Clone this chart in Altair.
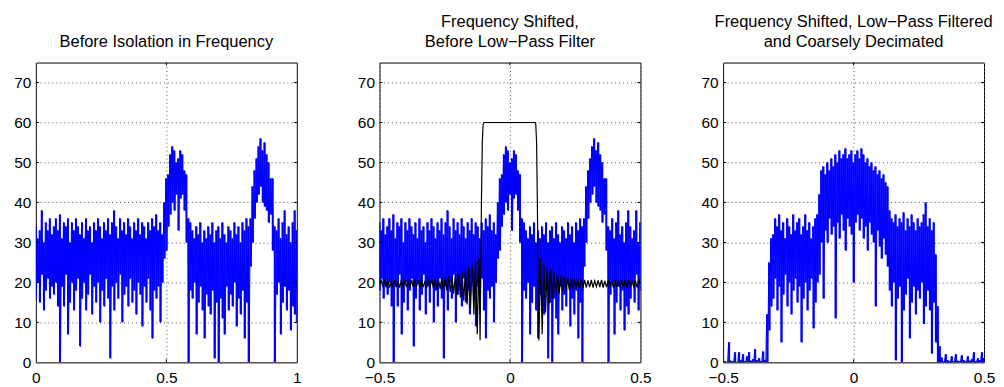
import altair as alt
import numpy as np
import pandas as pd

# ---------------- data ----------------
# Panel 1: spectrum 0..1, upper / lower envelope per bin (131 bins)
p1_hi = [34, 31, 33, 38, 30, 35, 33, 36, 32, 34,
         36, 33, 37, 31, 35, 34, 36, 30, 35, 33,
         36, 34, 32, 35, 31, 36, 33, 34, 30, 35,
         33, 36, 34, 31, 35, 33, 36, 32, 35, 38,
         34, 31, 36, 33, 35, 32, 36, 34, 31, 35,
         33, 36, 32, 35, 34, 31, 35, 33, 36, 34,
         37, 33, 35, 32,
         40, 46, 47, 52, 54, 53, 50, 51, 53, 52, 48, 47, 36,
         35, 33, 31, 34, 32, 35, 30, 33, 31, 34,
         32, 35, 30, 33, 34, 31, 35, 32, 30, 34,
         33, 31, 35, 32, 34, 30, 35, 33, 36, 34,
         36, 44, 48, 51, 54, 56, 53, 55, 52, 50, 46, 46, 34,
         33, 36, 31, 35, 38, 32, 34, 30, 35, 38, 33]
p1_lo = [16, 20, 15, 22, 13, 18, 21, 16, 19, 17,
         20, 14, 0, 19, 14, 22, 7, 15, 20, 13,
         18, 21, 4, 16, 20, 13, 17, 22, 12, 19,
         15, 20, 10, 18, 14, 21, 16, 1, 19, 13,
         20, 16, 22, 10, 17, 19, 14, 21, 15, 18,
         12, 20, 17, 9, 19, 15, 21, 13, 6, 18,
         16, 19, 10, 20,
         26, 28, 34, 37, 40, 38, 42, 33, 41, 42, 38, 30, 0,
         18, 16, 20, 7, 15, 19, 13, 6, 17, 14,
         12, 18, 1, 15, 0, 16, 11, 7, 19, 13,
         17, 14, 20, 9, 16, 12, 18, 6, 15, 0,
         24, 30, 36, 40, 42, 44, 40, 39, 38, 35, 37, 28, 0,
         17, 20, 7, 15, 19, 13, 18, 8, 14, 12, 10]

# Panel 2 is the same spectrum shifted in frequency by this many bins
shift_bins = 70

# Panel 3: decimated spectrum -0.5..0.5 (131 bins)
p3_hi = [0.5, 0.3, 0, 5, 0.4, 0.2, 2.5, 0, 2.5, 0.5, 2, 0.3, 1.5, 2.5, 0.4, 0.8, 3.3, 0.5, 1, 0.3, 2.7, 0.6,
         12, 25, 31,
         32, 36, 34, 37, 33, 35, 31, 36, 34, 32, 37, 33, 35, 36, 32, 34, 37, 33, 35, 31, 34, 36, 37,
         42, 48, 49,
         47, 50, 48, 51, 49, 52, 50, 53, 51, 52, 53.5, 51, 52, 53, 50, 52, 53, 51, 53.5, 52, 50, 51,
         49, 50, 48, 49, 47, 48, 46, 47, 45, 44,
         38, 36, 35, 37, 34, 36, 35, 37.5, 33, 36, 34, 37, 35, 33, 36, 34, 35, 37, 40, 34, 36, 33, 35,
         27, 14, 4,
         1.2, 0.3, 2, 0.5, 0.2, 1.5, 0.3, 2, 0.4, 0.3, 1.8, 0.5, 0.2, 1.5, 0.4, 0.8, 2.5, 0.3, 1, 0.5, 2.5, 1]
p3_lo = [0] * 22 + [0, 8, 14] + \
        [16, 21, 13, 19, 5, 17, 22, 14, 20, 12, 18, 21, 15, 19, 5, 16, 20, 13, 18, 21, 8.5, 15, 20] + \
        [22, 30, 16] + \
        [33, 30, 36, 32, 34, 11, 35, 31, 37, 33, 28, 36, 34, 32, 20, 35, 37, 33, 36, 31, 34, 28,
         35, 32, 30, 14, 33, 29, 26, 31, 27, 24] + \
        [18, 14, 20, 0.5, 16, 19, 0, 13, 17, 21, 6, 15, 19, 12, 18, 16, 20, 9.6, 14, 18, 13, 2.2, 15] + \
        [5, 0, 0] + [0] * 22

# Low-pass filter response (panel 2, black)
filt_left = [19.2, 20.5, 18.8, 20.4, 18.9, 20.6, 18.7, 20.4, 18.9, 20.5,
             18.8, 20.4, 18.7, 20.6, 18.9, 20.4, 18.8, 20.5, 18.7, 20.6,
             18.8, 20.4, 18.9, 20.5, 18.7, 20.6, 18.8, 20.4, 18.6, 20.7,
             18.6, 20.8, 18.5, 20.8, 18.4, 20.9, 18.3, 21.0, 18.1, 21.2,
             17.9, 21.4, 17.6, 21.6, 17.2, 21.9, 16.8, 22.2, 16.2, 22.6,
             15.4, 23.2, 14.5, 23.8, 13.5, 24.5, 12.0, 25.5, 7.0, 26.0]
filt_edge_x = [-0.1145, -0.112, -0.109, -0.106, -0.103, -0.100,
               0.096, 0.099, 0.102, 0.105, 0.108, 0.111]
filt_edge_y = [5.5, 22, 42, 55, 59.5, 60,
               60, 59.5, 55, 40, 20, 5.5]
filt_right = [26.0, 7.0, 25.0, 12.5, 24.0, 14.5, 23.2, 15.8, 22.6, 16.6,
              22.1, 17.2, 21.7, 17.6, 21.4, 17.9, 21.2, 18.1, 21.0, 18.3,
              20.9, 18.4, 20.8, 18.5, 20.7, 18.6, 20.6, 18.7, 20.5, 18.8,
              20.6, 18.7, 20.4, 18.9, 20.5, 18.8, 20.6, 18.7, 20.4, 18.8,
              20.5, 18.9, 20.4, 18.7, 20.6, 18.8, 20.5, 18.9, 20.4, 18.8,
              20.6, 18.7, 20.5, 18.8, 20.4, 18.9, 20.5, 18.7, 20.6, 19.6]

titles = [["Before Isolation in Frequency"],
          ["Frequency Shifted,", "Before Low\u2212Pass Filter"],
          ["Frequency Shifted, Low\u2212Pass Filtered", "and Coarsely Decimated"]]
y_ticks = [0, 10, 20, 30, 40, 50, 60, 70]
x_ticks_a = [0, 0.5, 1]
x_ticks_b = [-0.5, 0, 0.5]

# ---------------- build tables ----------------
NB = len(p1_hi)  # 131
W, H = 262, 301
FONT = "Liberation Sans"


def bins(x0, x1, hi, lo):
    xc = np.linspace(x0, x1, len(hi))
    return pd.DataFrame({"x": xc, "y": lo, "y2": hi})


def zigzag(x0, x1, hi, lo):
    xc = np.linspace(x0, x1, len(hi))
    hs = (x1 - x0) / (len(hi) - 1) / 4.0
    xs, ys = [], []
    for x, h, l in zip(xc, hi, lo):
        xs += [x - hs, x + hs]
        ys += [h, l]
    return pd.DataFrame({"x": xs, "y": ys, "o": np.arange(len(xs))})


period = NB - 1
src = [(j + period // 2 + shift_bins) % period for j in range(NB)]
p2_hi = [p1_hi[s] for s in src]
p2_lo = [p1_lo[s] for s in src]

blue_sets = [
    (bins(0.0, 1.0, p1_hi, p1_lo), zigzag(0.0, 1.0, p1_hi, p1_lo)),
    (bins(-0.5, 0.5, p2_hi, p2_lo), zigzag(-0.5, 0.5, p2_hi, p2_lo)),
    (bins(-0.5, 0.5, p3_hi, p3_lo), zigzag(-0.5, 0.5, p3_hi, p3_lo)),
]

fx = list(np.linspace(-0.5, -0.119, len(filt_left))) + filt_edge_x + \
     list(np.linspace(0.117, 0.5, len(filt_right)))
fy = filt_left + filt_edge_y + filt_right
dff = pd.DataFrame({"x": fx, "y": fy, "o": np.arange(len(fx))})


def panel(sets, xdom, xticks, title, extra_black=None):
    df_bins, df_zig = sets
    xs = alt.Scale(domain=xdom, nice=False, zero=False)
    ys = alt.Scale(domain=[0, 75], nice=False, zero=False)
    xaxis = alt.Axis(values=xticks, format="~g", title=None, grid=True,
                     gridDash=[1, 3], gridColor="#555555", ticks=False, domain=False,
                     labelFont=FONT, labelFontSize=15.5, labelColor="black",
                     labelPadding=8, labelFlush=False, labelOverlap=False)
    yaxis = alt.Axis(values=y_ticks, title=None, grid=True,
                     gridDash=[1, 3], gridColor="#555555", ticks=False, domain=False,
                     labelFont=FONT, labelFontSize=15.5, labelColor="black",
                     labelPadding=5, labelOverlap=False)
    layers = [
        alt.Chart(df_bins).mark_rule(color="#0000ff", strokeWidth=2, clip=True).encode(
            x=alt.X("x:Q", scale=xs, axis=xaxis),
            y=alt.Y("y:Q", scale=ys, axis=yaxis),
            y2="y2:Q"),
        alt.Chart(df_zig).mark_line(color="#0000ff", strokeWidth=1, clip=True).encode(
            x=alt.X("x:Q", scale=xs), y=alt.Y("y:Q", scale=ys), order="o:Q"),
    ]
    if extra_black is not None:
        layers.append(alt.Chart(extra_black).mark_line(color="black", strokeWidth=1.2, clip=True).encode(
            x=alt.X("x:Q", scale=xs), y=alt.Y("y:Q", scale=ys), order="o:Q"))
    yt = alt.Chart(pd.DataFrame({"y": y_ticks[1:]}))
    xt = alt.Chart(pd.DataFrame({"x": [xticks[1]]}))
    layers += [
        yt.mark_rule(color="black").encode(y=alt.Y("y:Q", scale=ys),
                                           x=alt.value(0), x2=alt.value(3)),
        yt.mark_rule(color="black").encode(y=alt.Y("y:Q", scale=ys),
                                           x=alt.value(W - 3), x2=alt.value(W)),
        xt.mark_rule(color="black").encode(x=alt.X("x:Q", scale=xs),
                                           y=alt.value(H - 3), y2=alt.value(H)),
        xt.mark_rule(color="black").encode(x=alt.X("x:Q", scale=xs),
                                           y=alt.value(0), y2=alt.value(3)),
    ]
    return alt.layer(*layers).properties(
        width=W, height=H,
        title=alt.TitleParams(text=title, font=FONT, fontSize=16.5, fontWeight="normal",
                              color="black", anchor="middle", offset=11.5, lineHeight=20))


c1 = panel(blue_sets[0], [0, 1], x_ticks_a, titles[0])
c2 = panel(blue_sets[1], [-0.5, 0.5], x_ticks_b, titles[1], dff)
c3 = panel(blue_sets[2], [-0.5, 0.5], x_ticks_b, titles[2])

chart = alt.hconcat(c1, c2, c3, spacing=83, bounds="flush").properties(
    padding={"left": 5, "top": 5, "right": 0, "bottom": 0},
    background="white"
).configure_view(stroke="black", strokeWidth=1)

chart.save("out.html", embed_options={"renderer": "svg", "actions": False})
